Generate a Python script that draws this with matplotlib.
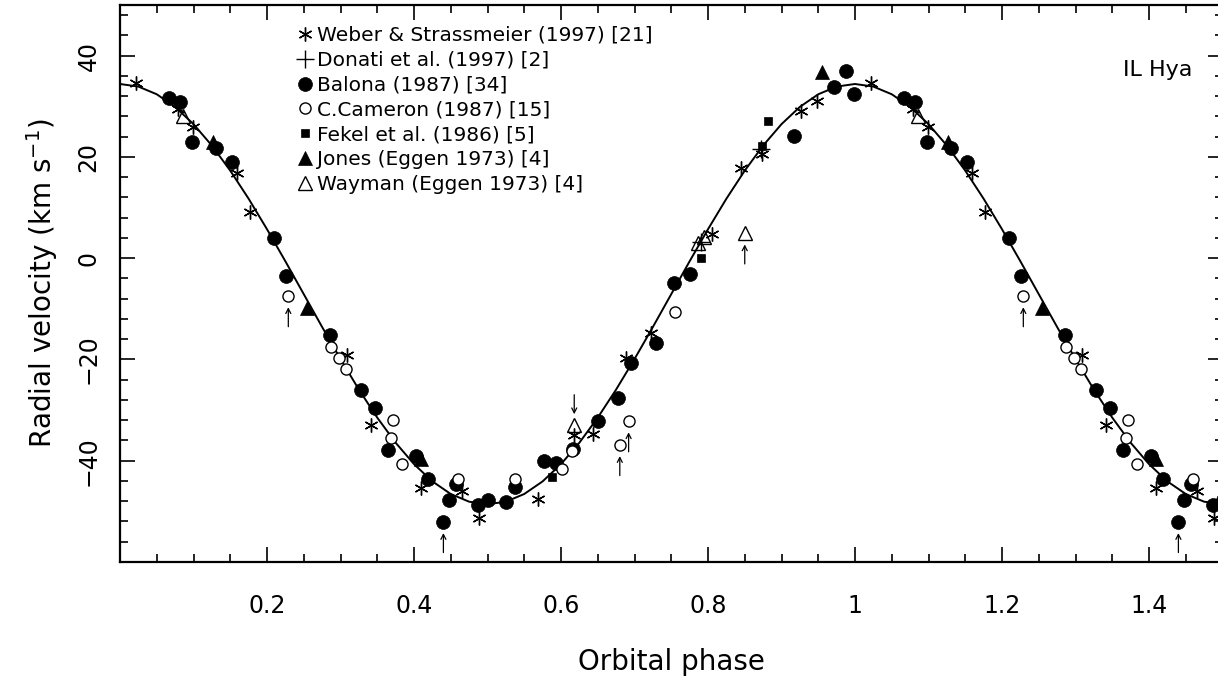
import numpy as np
import matplotlib
matplotlib.use("Agg")
import matplotlib.pyplot as plt
from matplotlib.ticker import MultipleLocator, FixedLocator
from matplotlib.lines import Line2D

# ── data (phase folded to 0..1, radial velocity in km/s) ─────────────────────
weber_phase = [0.022, 0.079, 0.099, 0.159, 0.177, 0.309, 0.342, 0.410, 0.465, 0.488,
               0.569, 0.618, 0.644, 0.689, 0.723, 0.805, 0.845, 0.874, 0.926, 0.948]
weber_rv = [34.5, 29.5, 25.9, 16.9, 9.1, -19.1, -33.0, -45.3, -46.0, -51.4,
            -47.6, -35.0, -34.8, -19.7, -14.8, 4.7, 17.9, 20.6, 29.1, 31.1]

donati_phase = [0.791, 0.872]
donati_rv = [3.2, 21.5]

balona_phase = [0.067, 0.082, 0.098, 0.130, 0.153, 0.2095, 0.226, 0.286, 0.328, 0.347,
                0.364, 0.403, 0.4195, 0.440, 0.448, 0.457, 0.487, 0.500, 0.525, 0.537,
                0.577, 0.593, 0.616, 0.650, 0.677, 0.695, 0.729, 0.754, 0.775, 0.917,
                0.972, 0.988, 0.999]
balona_rv = [31.6, 30.9, 22.9, 21.7, 19.0, 3.9, -3.5, -15.2, -26.0, -29.6,
             -37.8, -39.0, -43.7, -52.1, -47.8, -44.5, -48.8, -47.8, -48.2, -45.1,
             -40.0, -40.4, -37.7, -32.2, -27.6, -20.7, -16.8, -4.9, -3.1, 24.2,
             33.9, 36.9, 32.4]

cameron_phase = [0.229, 0.2866, 0.298, 0.307, 0.369, 0.372, 0.383, 0.460, 0.537, 0.602,
                 0.6145, 0.680, 0.692, 0.755]
cameron_rv = [-7.5, -17.6, -19.7, -21.9, -35.6, -31.9, -40.7, -43.7, -43.7, -41.7,
              -38.1, -36.9, -32.2, -10.6]

fekel_phase = [0.588, 0.791, 0.874, 0.881]
fekel_rv = [-43.2, 0.1, 22.2, 27.0]

jones_phase = [0.127, 0.254, 0.410, 0.955]
jones_rv = [23.0, -9.8, -39.6, 36.8]

wayman_phase = [0.086, 0.618, 0.787, 0.795, 0.850]
wayman_rv = [28.0, -33.0, 3.0, 4.2, 4.9]

# flagged points (arrow: +1 drawn below pointing up, -1 drawn above pointing down)
arrow_phase = [0.229, 0.440, 0.618, 0.680, 0.692, 0.850]
arrow_rv = [-7.5, -52.1, -33.0, -36.9, -32.2, 4.9]
arrow_dir = [1, 1, -1, 1, 1, 1]

# orbital solution, every 0.025 in phase
curve_phase = [i * 0.025 for i in range(61)]
curve_rv = [34.4, 33.89, 32.37, 29.88, 26.47, 22.24, 17.29, 11.74, 5.72, -0.61,
            -7.1, -13.59, -19.92, -25.94, -31.49, -36.44, -40.67, -44.08, -46.57, -48.09,
            -48.6, -48.09, -46.57, -44.08, -40.67, -36.44, -31.49, -25.94, -19.92, -13.59,
            -7.1, -0.61, 5.72, 11.74, 17.29, 22.24, 26.47, 29.88, 32.37, 33.89,
            34.4, 33.89, 32.37, 29.88, 26.47, 22.24, 17.29, 11.74, 5.72, -0.61,
            -7.1, -13.59, -19.92, -25.94, -31.49, -36.44, -40.67, -44.08, -46.57, -48.09,
            -48.6]

x_ticks = [0.2, 0.4, 0.6, 0.8, 1.0, 1.2, 1.4]
x_ticklabels = ["0.2", "0.4", "0.6", "0.8", "1", "1.2", "1.4"]
y_ticks = [-40, -20, 0, 20, 40]
y_ticklabels = ["\u221240", "\u221220", "0", "20", "40"]

XMAX = 1.5


def unfold(ph, rv):
    """repeat points one cycle later while they stay inside the plotted range"""
    ph = np.asarray(ph, float)
    rv = np.asarray(rv, float)
    keep = ph + 1 <= XMAX
    return np.concatenate([ph, ph[keep] + 1]), np.concatenate([rv, rv[keep]])


# ── figure ────────────────────────────────────────────────────────────────────
plt.rcParams["font.family"] = ["DejaVu Sans"]
fig = plt.figure(figsize=(12.18, 6.78), dpi=100)
ax = fig.add_axes([120 / 1218, 1 - 562 / 678, 1102.5 / 1218, 557 / 678])

ax.plot(curve_phase, curve_rv, color="black", lw=1.4, zorder=2)

styles = [
    (weber_phase, weber_rv, dict(marker=(6, 2, 0), ms=10, mfc="none", mec="black", mew=1.0),
     "Weber & Strassmeier (1997) [21]"),
    (donati_phase, donati_rv, dict(marker="+", ms=13, mec="black", mew=1.0),
     "Donati et al. (1997) [2]"),
    (balona_phase, balona_rv, dict(marker="o", ms=10, mfc="black", mec="black", mew=0.5),
     "Balona (1987) [34]"),
    (cameron_phase, cameron_rv, dict(marker="o", ms=8, mfc="white", mec="black", mew=1.0),
     "C.Cameron (1987) [15]"),
    (fekel_phase, fekel_rv, dict(marker="s", ms=6, mfc="black", mec="black", mew=0.5),
     "Fekel et al. (1986) [5]"),
    (jones_phase, jones_rv, dict(marker="^", ms=10, mfc="black", mec="black", mew=0.5),
     "Jones (Eggen 1973) [4]"),
    (wayman_phase, wayman_rv, dict(marker="^", ms=10, mfc="none", mec="black", mew=1.0),
     "Wayman (Eggen 1973) [4]"),
]

handles = []
for ph, rv, st, lab in styles:
    xs, ys = unfold(ph, rv)
    ax.plot(xs, ys, ls="none", zorder=3, **st)
    handles.append(Line2D([], [], ls="none", **st, label=lab))

axp, ayv = unfold(arrow_phase, arrow_rv)
adir = np.concatenate([arrow_dir, [d for p, d in zip(arrow_phase, arrow_dir) if p + 1 <= XMAX]])
for x, y, d in zip(axp, ayv, adir):
    ax.annotate("", xy=(x, y), xytext=(0, -22 * d), textcoords="offset points",
                arrowprops=dict(arrowstyle="->,head_length=0.35,head_width=0.18",
                                lw=0.9, color="black", shrinkA=0, shrinkB=8))

ax.text(0.941, 0.883, "IL Hya", transform=ax.transAxes, fontsize=16,
        ha="center", va="center")

leg = ax.legend(handles=handles, loc="upper left", bbox_to_anchor=(0.158, 0.966),
                frameon=False, fontsize=14.5, handlelength=0.9, handletextpad=0.15,
                labelspacing=0.29, borderpad=0.1, borderaxespad=0.0)

ax.set_xlim(0, XMAX)
ax.set_ylim(-60, 50)
ax.xaxis.set_major_locator(FixedLocator(x_ticks))
ax.set_xticklabels(x_ticklabels)
ax.xaxis.set_minor_locator(MultipleLocator(0.05))
ax.yaxis.set_major_locator(FixedLocator(y_ticks))
ax.set_yticklabels(y_ticklabels, rotation=90, va="center")
ax.yaxis.set_minor_locator(MultipleLocator(4))

ax.tick_params(which="both", direction="in", top=True, right=True, width=1.2)
ax.tick_params(which="major", length=11)
ax.tick_params(which="minor", length=5.5)
ax.tick_params(axis="x", labelsize=17, pad=23)
ax.tick_params(axis="y", labelsize=17, pad=14)
for sp in ax.spines.values():
    sp.set_linewidth(1.6)

ax.set_xlabel("Orbital phase", fontsize=20, labelpad=22)
ax.set_ylabel("Radial velocity (km s$^{-1}$)", fontsize=20, labelpad=12)

fig.savefig("out.png", dpi=100)
